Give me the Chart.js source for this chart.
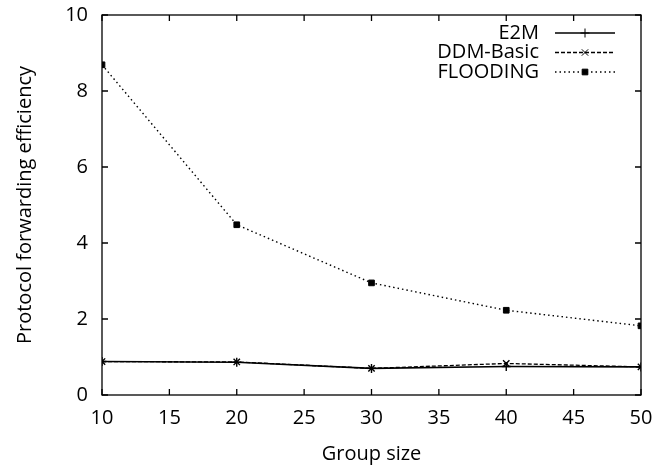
<!DOCTYPE html>
<html>
<head>
<meta charset="utf-8">
<script src="https://cdn.jsdelivr.net/npm/chart.js@4.4.1/dist/chart.umd.min.js"></script>
<style>
  html, body { margin: 0; padding: 0; background: #fff; }
  #wrap { width: 666px; height: 466px; }
</style>
</head>
<body>
<div id="wrap"><canvas id="chart" width="666" height="466"></canvas></div>
<script>
const groupSizes = [10, 20, 30, 40, 50];
const e2m = [0.88, 0.86, 0.70, 0.75, 0.74];
const ddmBasic = [0.88, 0.87, 0.70, 0.83, 0.74];
const flooding = [8.69, 4.48, 2.95, 2.23, 1.82];
const seriesNames = ["E2M", "DDM-Basic", "FLOODING"];

const FONT = "'Open Sans', sans-serif";
const FSIZE = 20;

function toPoints(values) {
  return groupSizes.map((g, i) => ({ x: g, y: values[i] }));
}

// frame + inward ticks on all four sides, gnuplot style
const frameTicks = {
  id: "frameTicks",
  afterDraw(chart) {
    const ctx = chart.ctx;
    const a = chart.chartArea;
    const xs = chart.scales.x;
    const ys = chart.scales.y;
    const len = 6;
    ctx.save();
    ctx.strokeStyle = "#000";
    ctx.lineWidth = 1.3;
    ctx.strokeRect(a.left, a.top, a.right - a.left, a.bottom - a.top);
    ctx.beginPath();
    xs.ticks.forEach((t) => {
      const px = xs.getPixelForValue(t.value);
      ctx.moveTo(px, a.bottom); ctx.lineTo(px, a.bottom - len);
      ctx.moveTo(px, a.top); ctx.lineTo(px, a.top + len);
    });
    ys.ticks.forEach((t) => {
      const py = ys.getPixelForValue(t.value);
      ctx.moveTo(a.left, py); ctx.lineTo(a.left + len, py);
      ctx.moveTo(a.right, py); ctx.lineTo(a.right - len, py);
    });
    ctx.stroke();
    ctx.restore();
  }
};

// key in the top right corner: label first, then line sample with marker
const keyBox = {
  id: "keyBox",
  afterDraw(chart) {
    const ctx = chart.ctx;
    const a = chart.chartArea;
    const textRight = a.right - 102;
    const lineL = a.right - 86;
    const lineR = a.right - 26;
    ctx.save();
    ctx.font = FSIZE + "px " + FONT;
    ctx.fillStyle = "#000";
    ctx.textAlign = "right";
    ctx.textBaseline = "middle";
    chart.data.datasets.forEach((ds, i) => {
      const y = a.top + 18 + i * 19.5;
      ctx.fillText(ds.label, textRight, y);
      ctx.save();
      ctx.strokeStyle = ds.borderColor;
      ctx.lineWidth = ds.borderWidth;
      ctx.setLineDash(ds.borderDash || []);
      ctx.beginPath();
      ctx.moveTo(lineL, y);
      ctx.lineTo(lineR, y);
      ctx.stroke();
      ctx.restore();
      Chart.helpers.drawPoint(ctx, {
        pointStyle: ds.pointStyle,
        radius: ds.pointRadius,
        borderWidth: 1.3,
        rotation: 0
      }, (lineL + lineR) / 2, y);
    });
    ctx.restore();
  }
};

new Chart(document.getElementById("chart"), {
  type: "line",
  data: {
    datasets: [
      {
        label: seriesNames[0],
        data: toPoints(e2m),
        borderColor: "#000",
        backgroundColor: "#000",
        borderWidth: 1.6,
        pointStyle: "cross",
        pointRadius: 4.5,
        pointBorderWidth: 1.4
      },
      {
        label: seriesNames[1],
        data: toPoints(ddmBasic),
        borderColor: "#000",
        backgroundColor: "#000",
        borderWidth: 1.3,
        borderDash: [4, 2],
        pointStyle: "crossRot",
        pointRadius: 4.5,
        pointBorderWidth: 1.4
      },
      {
        label: seriesNames[2],
        data: toPoints(flooding),
        borderColor: "#000",
        backgroundColor: "#000",
        borderWidth: 1.4,
        borderDash: [1.5, 3],
        pointStyle: "rect",
        pointRadius: 4,
        pointBorderWidth: 1
      }
    ]
  },
  options: {
    responsive: false,
    animation: false,
    layout: { padding: { top: 15, right: 25, left: 0, bottom: 0 } },
    plugins: {
      legend: { display: false },
      tooltip: { enabled: false }
    },
    scales: {
      x: {
        type: "linear",
        min: 10,
        max: 50,
        grid: { display: false, drawTicks: false },
        border: { display: false },
        ticks: {
          stepSize: 5,
          padding: 11,
          color: "#000",
          font: { family: FONT, size: FSIZE }
        },
        title: {
          display: true,
          text: "Group size",
          color: "#000",
          font: { family: FONT, size: FSIZE },
          padding: { top: 4, bottom: 0 }
        },
        afterFit(scale) { scale.height = 71; }
      },
      y: {
        min: 0,
        max: 10,
        grid: { display: false, drawTicks: false },
        border: { display: false },
        ticks: {
          stepSize: 2,
          padding: 14,
          color: "#000",
          font: { family: FONT, size: FSIZE }
        },
        title: {
          display: true,
          text: "Protocol forwarding efficiency",
          color: "#000",
          font: { family: FONT, size: FSIZE },
          padding: { top: 13, bottom: 0 }
        },
        afterFit(scale) {
          scale.width = 102;
          scale.paddingTop = 0;
          scale.paddingBottom = 0;
        }
      }
    }
  },
  plugins: [frameTicks, keyBox]
});
</script>
</body>
</html>
